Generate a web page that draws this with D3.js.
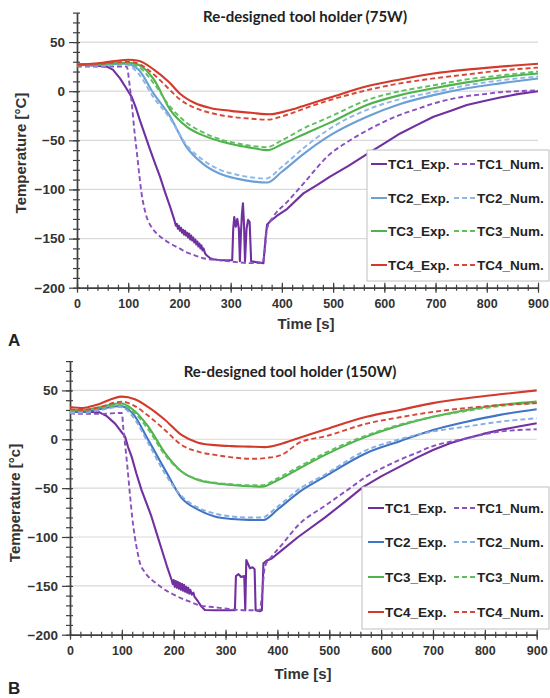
<!DOCTYPE html>
<html>
<head>
<meta charset="utf-8">
<script src="https://cdn.jsdelivr.net/npm/d3@7"></script>
<style>
  html, body { margin: 0; padding: 0; background: #fff; }
  svg { display: block; }
</style>
</head>
<body>
<div id="chart"></div>
<script>
// valeurs : [temps (s), température (°C)]
const xTicks = [0, 100, 200, 300, 400, 500, 600, 700, 800, 900];
const yTicks = [-200, -150, -100, -50, 0, 50];
const legendLabels = ["TC1_Exp.", "TC1_Num.", "TC2_Exp.", "TC2_Num.", "TC3_Exp.", "TC3_Num.", "TC4_Exp.", "TC4_Num."];

// --- panneau A (75W)
const tc1ExpA = [[0,27],[40,26],[58,25],[70,22],[84,13],[95,4],[107,-6],[115,-17],[123,-30],[133,-45],[143,-60],[152,-73],[162,-87],[172,-103],[182,-118],[190,-131],[193,-137],[195,-135],[197,-140],[199,-137],[201,-142],[203,-139],[205,-144],[207,-141],[209,-146],[211,-142],[213,-147],[215,-144],[217,-149],[219,-145],[221,-151],[223,-147],[225,-152],[227,-149],[229,-154],[231,-151],[233,-156],[235,-153],[237,-158],[239,-155],[241,-160],[243,-157],[245,-162],[247,-160],[250,-165],[253,-167],[260,-170],[266,-171],[280,-172],[295,-172],[303,-172],[305,-140],[307,-128],[310,-138],[313,-130],[316,-140],[318,-173],[320,-145],[322,-125],[324,-114],[326,-135],[328,-173],[331,-140],[334,-131],[337,-133],[340,-173],[350,-174],[364,-175],[368,-150],[371,-136],[378,-132],[390,-127],[410,-120],[442,-104],[470,-95],[494,-87],[530,-76],[566,-64],[600,-53],[631,-43],[665,-34],[696,-26],[730,-20],[761,-14],[795,-10],[826,-6.5],[860,-3],[900,0]];
const tc1NumA = [[0,25],[50,25],[97,25],[103,5],[107,-13],[112,-40],[117,-63],[122,-87],[126,-104],[131,-118],[136,-128],[145,-138],[156,-145],[170,-151],[182,-155],[200,-160],[214,-164],[230,-167],[246,-170],[280,-172],[312,-174],[340,-175],[362,-175],[367,-160],[371,-140],[383,-128],[410,-113],[442,-94],[494,-64],[530,-51],[566,-40],[600,-31],[631,-24],[665,-18],[696,-12.5],[730,-8],[761,-5],[795,-3],[826,-1],[860,0],[900,1]];
const tc2ExpA = [[0,27],[50,27],[95,28],[120,22],[149,-2],[182,-26],[214,-57],[246,-74],[279,-84],[312,-89],[345,-92],[371,-93],[400,-82],[442,-64],[494,-45],[566,-26],[631,-13],[696,-4],[761,3],[826,8],[900,13]];
const tc2NumA = [[0,26],[50,26],[95,27],[120,18],[149,-6],[182,-28],[214,-55],[246,-70],[279,-80],[312,-85],[345,-88],[368,-89],[400,-77],[442,-58],[494,-38],[566,-19],[631,-8],[696,-1],[761,6],[826,11],[900,15]];
const tc3ExpA = [[0,27],[50,28],[100,29],[120,27],[150,12],[182,-19],[214,-36],[246,-45],[280,-51],[312,-55],[345,-58],[372,-60],[400,-54],[442,-44],[494,-32],[566,-14],[631,-4],[696,3],[761,9],[826,14],[900,18]];
const tc3NumA = [[0,26],[50,27],[100,28],[120,25],[150,8],[182,-16],[214,-32],[246,-42],[280,-49],[312,-53],[345,-56],[370,-57],[400,-50],[442,-38],[494,-26],[566,-9],[631,0],[696,6],[761,12],[826,16],[900,20]];
const tc4ExpA = [[0,27],[50,29],[100,32],[120,31],[150,22],[180,9],[200,-2],[230,-12],[260,-17],[300,-20],[340,-22],[377,-23.5],[410,-20],[442,-15],[494,-6.5],[566,5],[631,12],[696,18],[761,22],[826,25],[900,28]];
const tc4NumA = [[0,26],[50,28],[100,30],[120,28],[150,17],[180,2],[200,-8],[230,-17],[260,-22],[300,-26],[340,-28],[370,-29],[410,-24],[442,-18],[494,-9],[566,1],[631,8],[696,13],[761,17],[826,21],[900,24]];

// --- panneau B (150W)
const tc1ExpB = [[0,29],[30,28],[55,28],[70,24],[87,16],[97,9],[106,3],[112,-8],[119,-18],[128,-35],[138,-52],[148,-66],[157,-79],[167,-96],[177,-113],[187,-130],[196,-144],[198,-148],[200,-144],[202,-151],[204,-145],[206,-152],[208,-146],[210,-153],[212,-147],[214,-154],[216,-148],[218,-155],[220,-149],[222,-156],[224,-151],[226,-157],[228,-152],[230,-158],[232,-154],[235,-159],[238,-157],[240,-161],[247,-166],[253,-171],[260,-174.7],[280,-175],[300,-175],[318,-175],[320,-140],[325,-138],[330,-141],[336,-140],[338,-175],[340,-123.5],[343,-127],[347,-132],[352,-131],[356,-133],[358,-175],[366,-176],[370,-175],[373,-127],[380,-124],[389,-122],[410,-113],[440,-100],[492,-80],[530,-64],[565,-49],[600,-38],[636,-28],[668,-19],[700,-11],[733,-4],[765,1],[797,5.5],[829,9.5],[865,13],[900,16.4]];
const tc1NumB = [[0,27],[10,26],[30,26],[60,26],[100,27],[103,10],[106,-4],[111,-30],[116,-58.7],[120,-80],[125,-99.7],[130,-115],[135,-127],[143,-135],[151,-140.6],[165,-147],[183,-154],[200,-159],[215,-162.8],[230,-166],[247,-169.6],[280,-172],[312,-174],[340,-175],[366,-175],[370,-160],[376,-130],[389,-120],[410,-107],[440,-88],[492,-68],[508,-62],[540,-50],[572,-38],[604,-29],[636,-21],[668,-14],[700,-7],[733,-2.5],[765,1],[797,5],[829,7.8],[865,9.5],[900,10.2]];
const tc2ExpB = [[0,28],[25,28],[50,30],[97,34],[120,27],[151,-0.7],[183,-31],[215,-60],[247,-72],[279,-79],[312,-81.6],[345,-82.5],[373,-82.6],[400,-72],[442,-54],[492,-38],[572,-14],[636,-2],[700,9.5],[765,18],[829,25],[900,30.7]];
const tc2NumB = [[0,27],[25,27],[50,29],[97,33],[120,24],[151,-4],[183,-35],[215,-58],[247,-70],[279,-76],[312,-79],[345,-80],[370,-80],[400,-69],[442,-51],[492,-36],[572,-11],[636,0],[700,8],[765,13],[829,18],[900,21.5]];
const tc3ExpB = [[0,30],[25,30],[50,32],[97,36.8],[120,31],[151,13],[183,-14],[215,-33],[247,-41.7],[280,-45],[312,-46.8],[345,-48],[370,-48.5],[400,-42],[442,-30],[492,-16],[572,2.7],[636,14],[700,23],[765,30],[829,35],[900,38.5]];
const tc3NumB = [[0,29],[25,29],[50,31],[97,35],[120,29],[151,10],[183,-16],[215,-33],[247,-41],[280,-44.5],[312,-46],[345,-47],[370,-47],[400,-40],[442,-28],[492,-14],[572,4],[636,15],[700,23],[765,29],[829,34],[900,37]];
const tc4ExpB = [[0,33],[25,32],[50,35],[100,43.6],[125,41],[151,33],[183,20],[215,4.4],[247,-3.5],[280,-6],[312,-7],[345,-7.5],[376,-8],[405,-5],[440,1],[492,10],[572,23],[636,30],[700,37],[765,42],[829,46],[900,50]];
const tc4NumB = [[0,30.7],[25,30],[50,32],[100,38.5],[125,34],[151,24],[183,9.5],[215,-5.8],[247,-12.7],[280,-16],[312,-18.5],[355,-20],[380,-19],[408,-16],[444,-3],[492,3],[572,16],[636,22.5],[700,28],[765,32],[829,35],[900,37]];

const W = 550, H = 698;
const svg = d3.select("#chart").append("svg").attr("width", W).attr("height", H);

const FONT = "'Liberation Sans', Arial, sans-serif";

function drawPanel(p) {
    const x = d3.scaleLinear().domain([0, 900]).range([p.x0, p.x1]);
    const y = d3.scaleLinear().domain([-200, 80]).range([p.y0, p.y1]);
    const g = svg.append("g");

    // grille horizontale
    g.selectAll(".grid").data(yTicks.filter(d => d > -200)).enter().append("line")
        .attr("x1", p.x0).attr("x2", p.x1)
        .attr("y1", d => y(d)).attr("y2", d => y(d))
        .attr("stroke", "#d9d9d9").attr("stroke-width", 1.2);

    // axe x : petites graduations
    const xMinor = g.append("g").attr("transform", `translate(0,${p.y0})`)
        .call(d3.axisBottom(x).tickValues(d3.range(0, 901, 20)).tickFormat("").tickSize(3).tickSizeOuter(0));
    xMinor.selectAll(".tick line").attr("y1", -3);
    const xMajor = g.append("g").attr("transform", `translate(0,${p.y0})`)
        .call(d3.axisBottom(x).tickValues(xTicks).tickSize(5).tickSizeOuter(0).tickPadding(6));
    xMajor.selectAll(".tick line").attr("y1", -5);
    xMajor.selectAll("text").attr("font-family", FONT).attr("font-weight", "bold")
        .attr("font-size", 12.5).attr("fill", "#333");

    // axe y
    const yMinor = g.append("g").attr("transform", `translate(${p.x0},0)`)
        .call(d3.axisLeft(y).tickValues(d3.range(-200, 81, 10)).tickFormat("").tickSize(4).tickSizeOuter(0));
    yMinor.selectAll(".tick line").attr("x1", 3);
    const yMajor = g.append("g").attr("transform", `translate(${p.x0},0)`)
        .call(d3.axisLeft(y).tickValues(yTicks).tickSize(8).tickSizeOuter(0).tickPadding(p.yPad));
    yMajor.selectAll(".tick line").attr("x1", 2);
    yMajor.selectAll("text").attr("font-family", FONT).attr("font-weight", "bold")
        .attr("font-size", 13.5).attr("fill", "#333");

    [xMinor, xMajor, yMinor, yMajor].forEach(a => {
        a.select(".domain").attr("stroke", "#404040").attr("stroke-width", 1.4);
        a.selectAll(".tick line").attr("stroke", "#404040").attr("stroke-width", 1.2);
    });

    // courbes
    p.series.forEach(s => {
        const line = d3.line().x(d => x(d[0])).y(d => y(d[1]))
            .curve(s.raw ? d3.curveLinear : d3.curveMonotoneX);
        g.append("path").datum(s.data)
            .attr("fill", "none")
            .attr("stroke", s.color)
            .attr("stroke-width", s.dash ? 1.9 : 2.1)
            .attr("stroke-linejoin", "round")
            .attr("stroke-dasharray", s.dash ? "5,3" : null)
            .attr("d", line);
    });

    // légende
    const L = p.legend;
    g.append("rect").attr("x", L.x).attr("y", L.y).attr("width", L.w).attr("height", L.h)
        .attr("fill", "#fff").attr("stroke", "#bfbfbf").attr("stroke-width", 1);
    p.series.forEach((s, i) => {
        const row = Math.floor(i / 2), col = i % 2;
        const cy = L.rows[row];
        const sx = col === 0 ? L.c1 : L.c2;
        const len = col === 0 ? 16 : 22;
        g.append("line").attr("x1", sx).attr("x2", sx + len).attr("y1", cy).attr("y2", cy)
            .attr("stroke", s.color).attr("stroke-width", 2)
            .attr("stroke-dasharray", s.dash ? "5,3" : null);
        g.append("text").attr("x", sx + len + 1).attr("y", cy + 5)
            .attr("font-family", FONT).attr("font-weight", "bold").attr("font-size", 13.5)
            .attr("fill", "#222").text(legendLabels[i]);
    });

    // textes
    g.append("text").attr("x", p.titleX).attr("y", p.titleY).attr("text-anchor", "middle")
        .attr("font-family", "Lato, 'Open Sans', sans-serif").attr("font-weight", "bold")
        .attr("font-size", 15).attr("fill", "#222").text(p.title);
    g.append("text").attr("x", p.xLabX).attr("y", p.xLabY).attr("text-anchor", "middle")
        .attr("font-family", FONT).attr("font-weight", "bold").attr("font-size", 15)
        .attr("fill", "#333").text("Time [s]");
    g.append("text").attr("transform", `translate(${p.yLabX},${p.yLabY}) rotate(-90)`)
        .attr("text-anchor", "middle")
        .attr("font-family", FONT).attr("font-weight", "bold").attr("font-size", 15)
        .attr("fill", "#333").text(p.yLabel);
    g.append("text").attr("x", 8).attr("y", p.tagY)
        .attr("font-family", FONT).attr("font-weight", "bold").attr("font-size", 17)
        .attr("fill", "#222").text(p.tag);
}

drawPanel({
    x0: 77, x1: 538, y0: 287.7, y1: 12.6, yPad: 4,
    title: "Re-designed tool holder (75W)", titleX: 305, titleY: 22,
    xLabX: 306, xLabY: 329, yLabX: 26, yLabY: 153, yLabel: "Temperature [°C]",
    tag: "A", tagY: 346,
    legend: { x: 367, y: 150, w: 182, h: 131, rows: [164, 198, 231, 265], c1: 371, c2: 454 },
    series: [
        { data: tc1ExpA, color: "#7030a0", raw: true },
        { data: tc1NumA, color: "#8850c0", dash: true },
        { data: tc2ExpA, color: "#6a9fd8" },
        { data: tc2NumA, color: "#8fb6e4", dash: true },
        { data: tc3ExpA, color: "#4fb24c" },
        { data: tc3NumA, color: "#5fbf5c", dash: true },
        { data: tc4ExpA, color: "#d23a2b" },
        { data: tc4NumA, color: "#d84638", dash: true }
    ]
});

drawPanel({
    x0: 70, x1: 536.7, y0: 634.7, y1: 361.1, yPad: 4,
    title: "Re-designed tool holder (150W)", titleX: 290, titleY: 377,
    xLabX: 303, xLabY: 679, yLabX: 20, yLabY: 503, yLabel: "Temperature [°c]",
    tag: "B", tagY: 694,
    legend: { x: 362, y: 487, w: 187, h: 142, rows: [508, 542, 577, 612], c1: 368, c2: 454 },
    series: [
        { data: tc1ExpB, color: "#7030a0", raw: true },
        { data: tc1NumB, color: "#8850c0", dash: true },
        { data: tc2ExpB, color: "#3f74c6" },
        { data: tc2NumB, color: "#86aee3", dash: true },
        { data: tc3ExpB, color: "#4fb24c" },
        { data: tc3NumB, color: "#5fbf5c", dash: true },
        { data: tc4ExpB, color: "#d23a2b" },
        { data: tc4NumB, color: "#d84638", dash: true }
    ]
});
</script>
</body>
</html>
